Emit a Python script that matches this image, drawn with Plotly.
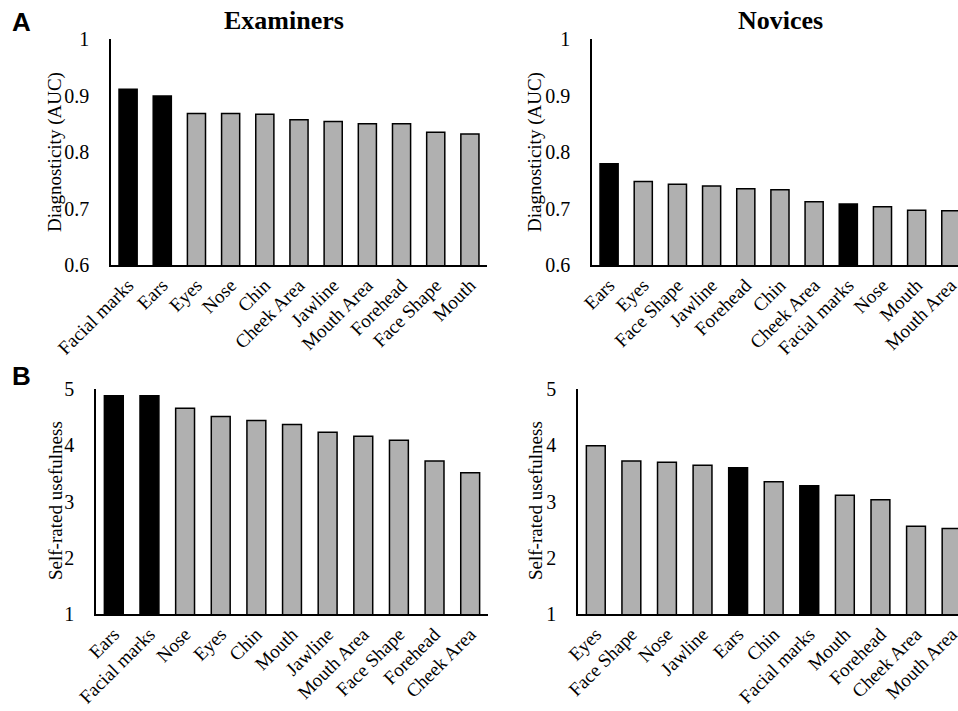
import plotly.graph_objects as go

# ---- Data ----
exam_auc_cats = ["Facial marks", "Ears", "Eyes", "Nose", "Chin", "Cheek Area",
                 "Jawline", "Mouth Area", "Forehead", "Face Shape", "Mouth"]
exam_auc_vals = [0.911, 0.899, 0.868, 0.868, 0.867, 0.857, 0.854, 0.850, 0.850, 0.835, 0.832]

nov_auc_cats = ["Ears", "Eyes", "Face Shape", "Jawline", "Forehead", "Chin",
                "Cheek Area", "Facial marks", "Nose", "Mouth", "Mouth Area"]
nov_auc_vals = [0.779, 0.748, 0.743, 0.740, 0.735, 0.733, 0.712, 0.708, 0.703, 0.697, 0.696]

exam_use_cats = ["Ears", "Facial marks", "Nose", "Eyes", "Chin", "Mouth",
                 "Jawline", "Mouth Area", "Face Shape", "Forehead", "Cheek Area"]
exam_use_vals = [4.88, 4.88, 4.66, 4.51, 4.44, 4.37, 4.23, 4.16, 4.09, 3.72, 3.51]

nov_use_cats = ["Eyes", "Face Shape", "Nose", "Jawline", "Ears", "Chin",
                "Facial marks", "Mouth", "Forehead", "Cheek Area", "Mouth Area"]
nov_use_vals = [3.99, 3.72, 3.70, 3.645, 3.60, 3.35, 3.28, 3.11, 3.03, 2.56, 2.52]

highlight = ["Ears", "Facial marks"]

auc_ticks = [0.6, 0.7, 0.8, 0.9, 1.0]
auc_ticktext = ["0.6", "0.7", "0.8", "0.9", "1"]
use_ticks = [1, 2, 3, 4, 5]
use_ticktext = ["1", "2", "3", "4", "5"]

# ---- Styling ----
W, H = 958, 711
SERIF = "Times New Roman, Liberation Serif, serif"
SANS = "Liberation Sans, Arial, sans-serif"
BLACK = "#000000"
GRAY = "#b0b0b0"


def colors(cats):
    return [BLACK if c in highlight else GRAY for c in cats]


def px_x(a, b):
    return [a / W, min(b / W, 1.0)]


def px_y(top, bottom):
    return [1 - bottom / H, 1 - top / H]


fig = go.Figure()

panels = [
    (exam_auc_cats, exam_auc_vals, "", (111, 487), (39, 265), 10.5, [0.6, 1.0], auc_ticks, auc_ticktext),
    (nov_auc_cats, nov_auc_vals, "2", (592, 958), (39, 265), 10.21, [0.6, 1.0], auc_ticks, auc_ticktext),
    (exam_use_cats, exam_use_vals, "3", (96, 488), (389, 614), 10.5, [1, 5], use_ticks, use_ticktext),
    (nov_use_cats, nov_use_vals, "4", (578, 958), (389, 614), 10.18, [1, 5], use_ticks, use_ticktext),
]

layout = {}
for cats, vals, ax, xd, yd, xend, yr, tv, tt in panels:
    fig.add_trace(go.Bar(
        x=list(range(len(cats))), y=vals,
        marker=dict(color=colors(cats), line=dict(color=BLACK, width=1.5)),
        width=0.53,
        xaxis="x" + ax, yaxis="y" + ax,
        showlegend=False, hoverinfo="x+y",
    ))
    layout["xaxis" + ax] = dict(
        domain=px_x(*xd), anchor="y" + ax, range=[-0.5, xend],
        tickmode="array", tickvals=list(range(len(cats))), ticktext=cats,
        tickangle=-45, tickfont=dict(family=SERIF, size=19, color=BLACK),
        ticklabeloverflow="allow",
        showline=True, linecolor=BLACK, linewidth=1.5, mirror=False,
        showgrid=False, zeroline=False, automargin=False,
        ticks="",
        fixedrange=True,
    )
    layout["yaxis" + ax] = dict(
        domain=px_y(*yd), anchor="x" + ax, range=yr,
        tickmode="array", tickvals=tv, ticktext=tt,
        tickfont=dict(family=SERIF, size=20, color=BLACK),
        ticklabeloverflow="allow",
        showline=True, linecolor=BLACK, linewidth=1.5,
        showgrid=False, zeroline=False, automargin=False,
        ticks="outside", ticklen=16, tickcolor="rgba(0,0,0,0)",
        fixedrange=True,
    )


def ann(text, xpx, ypx, size, family=SERIF, angle=0):
    return dict(text=text, x=xpx / W, y=1 - ypx / H, xref="paper", yref="paper",
                xanchor="center", yanchor="middle", textangle=angle,
                showarrow=False, font=dict(family=family, size=size, color=BLACK))


annotations = [
    ann("<b>Examiners</b>", 284, 21, 26),
    ann("<b>Novices</b>", 780, 21, 26),
    ann("<b>A</b>", 21, 22, 26, SANS),
    ann("<b>B</b>", 21, 376, 26, SANS),
    ann("Diagnosticity (AUC)", 55, 152, 19, angle=-90),
    ann("Diagnosticity (AUC)", 535, 152, 19, angle=-90),
    ann("Self-rated usefulness", 55, 501, 19, angle=-90),
    ann("Self-rated usefulness", 535, 501, 19, angle=-90),
]

fig.update_layout(
    width=W, height=H,
    margin=dict(l=0, r=0, t=0, b=0, autoexpand=False),
    paper_bgcolor="white", plot_bgcolor="white",
    bargap=0.47,
    annotations=annotations,
    **layout,
)

fig.write_html("out.html",
               config={"displayModeBar": False},
               post_script="document.body.style.margin='0';document.body.style.overflow='hidden';")
